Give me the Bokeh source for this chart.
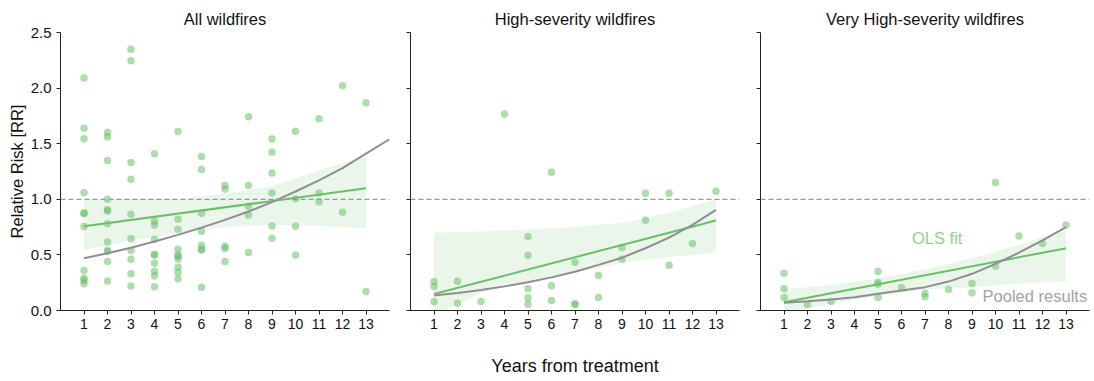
from bokeh.plotting import figure
from bokeh.layouts import row
from bokeh.models import (Range1d, FixedTicker, PrintfTickFormatter, Span, Label,
                          CustomLabelingPolicy)
from bokeh.embed import file_html
from bokeh.resources import INLINE

FONT = "Liberation Sans"

titles = ["All wildfires", "High-severity wildfires", "Very High-severity wildfires"]
x_title = "Years from treatment"
y_title = "Relative Risk [RR]"
x_ticks = list(range(1, 14))
y_ticks = [0.0, 0.5, 1.0, 1.5, 2.0, 2.5]

# ---- scatter data (years, relative risk) ----
all_x = ([1]*11 + [2]*12 + [3]*10 + [4]*10 + [5]*10 + [6]*8 + [7]*5 + [8]*5 + [9]*6
         + [10]*4 + [11]*3 + [12]*2 + [13]*2)
all_y = [2.09, 1.64, 1.545, 1.06, 0.88, 0.87, 0.755, 0.36, 0.29, 0.27, 0.24,
         1.60, 1.56, 1.35, 1.00, 0.905, 0.895, 0.78, 0.615, 0.54, 0.53, 0.44, 0.265,
         2.35, 2.245, 1.33, 1.18, 0.865, 0.645, 0.54, 0.46, 0.33, 0.22,
         1.41, 0.805, 0.77, 0.64, 0.505, 0.497, 0.425, 0.353, 0.312, 0.213,
         1.61, 0.82, 0.73, 0.55, 0.50, 0.485, 0.46, 0.39, 0.344, 0.285,
         1.385, 1.267, 0.875, 0.713, 0.587, 0.551, 0.545, 0.209,
         1.123, 1.093, 0.578, 0.557, 0.44,
         1.743, 1.123, 0.937, 0.856, 0.521,
         1.542, 1.422, 1.237, 1.057, 0.761, 0.65,
         1.611, 1.006, 0.758, 0.50,
         1.725, 1.057, 0.979,
         2.022, 0.883,
         1.869, 0.171]

high_x = [1, 1, 1, 2, 2, 3, 4, 5, 5, 5, 5, 5, 6, 6, 6, 7, 7, 7, 8, 8, 9, 9, 10, 10, 11, 11, 12, 13]
high_y = [0.26, 0.216, 0.078, 0.263, 0.066, 0.081, 1.766, 0.665, 0.494, 0.195, 0.114, 0.057,
          1.243, 0.222, 0.09, 0.434, 0.06, 0.054, 0.314, 0.117, 0.566, 0.461, 1.054, 0.811,
          1.054, 0.407, 0.602, 1.072]

vhigh_x = [1, 1, 1, 2, 3, 5, 5, 5, 5, 6, 7, 7, 8, 9, 9, 10, 10, 11, 12, 13]
vhigh_y = [0.335, 0.195, 0.117, 0.054, 0.081, 0.35, 0.251, 0.237, 0.117, 0.204, 0.156, 0.123,
           0.189, 0.243, 0.159, 1.15, 0.398, 0.671, 0.602, 0.769]

# ---- OLS fit lines (endpoints) and confidence bands ----
ols_x = [1, 13]
all_ols = [0.757, 1.099]
high_ols = [0.148, 0.810]
vhigh_ols = [0.074, 0.560]

band_x = [1, 3, 5, 7, 9, 11, 13]
all_lo = [0.545, 0.63, 0.69, 0.75, 0.77, 0.76, 0.74]
all_hi = [1.00, 1.00, 1.00, 1.05, 1.12, 1.26, 1.39]
high_lo = [-0.05, 0.16, 0.26, 0.34, 0.43, 0.48, 0.52]
high_hi = [0.70, 0.71, 0.73, 0.75, 0.79, 0.88, 1.00]
vhigh_lo = [-0.02, 0.06, 0.13, 0.19, 0.21, 0.24, 0.26]
vhigh_hi = [0.19, 0.23, 0.29, 0.37, 0.47, 0.59, 0.73]

# ---- pooled results curves ----
all_pool_x = list(range(1, 15))
all_pool = [0.47, 0.515, 0.565, 0.62, 0.68, 0.745, 0.815, 0.89, 0.975, 1.07, 1.17, 1.28, 1.41, 1.54]
high_pool_x = list(range(1, 14))
high_pool = [0.135, 0.158, 0.185, 0.217, 0.254, 0.298, 0.349, 0.41, 0.475, 0.56, 0.655, 0.77, 0.905]
vhigh_pool_x = list(range(1, 14))
vhigh_pool = [0.069, 0.083, 0.10, 0.12, 0.15, 0.18, 0.21, 0.26, 0.33, 0.42, 0.52, 0.63, 0.75]

panels = [
    (all_x, all_y, all_ols, all_lo, all_hi, all_pool_x, all_pool),
    (high_x, high_y, high_ols, high_lo, high_hi, high_pool_x, high_pool),
    (vhigh_x, vhigh_y, vhigh_ols, vhigh_lo, vhigh_hi, vhigh_pool_x, vhigh_pool),
]

GREEN = "#6abf69"
GRAY = "#8f8e92"

figs = []
borders = [(60, 11), (10, 11), (10, 4)]
for i, (px, py, ols, lo, hi, plx, pl) in enumerate(panels):
    p = figure(frame_width=329, frame_height=278, output_backend="svg", toolbar_location=None,
               x_range=Range1d(0, 14), y_range=Range1d(0, 2.5),
               min_border_left=borders[i][0], min_border_right=borders[i][1],
               min_border_top=32, min_border_bottom=71)
    p.outline_line_color = None
    p.grid.visible = False
    p.background_fill_color = "white"
    p.border_fill_color = "white"

    p.title.text = titles[i]
    p.title.align = "center"
    p.title.text_font = FONT
    p.title.text_font_size = "16.5px"
    p.title.text_font_style = "normal"
    p.title.text_color = "#111111"

    p.varea(x=band_x, y1=lo, y2=hi, fill_color=GREEN, fill_alpha=0.14)
    p.add_layout(Span(location=1.0, dimension="width", line_color="#9a9a9a",
                      line_dash="5 3", line_width=1.3))
    p.scatter(px, py, size=7.5, fill_color=GREEN, fill_alpha=0.55, line_color=None)
    p.line(ols_x, ols, line_color=GREEN, line_width=2)
    p.line(plx, pl, line_color=GRAY, line_width=2)

    for ax in (p.xaxis[0], p.yaxis[0]):
        ax.axis_line_color = "#222222"
        ax.major_tick_line_color = "#222222"
        ax.major_tick_in = 0
        ax.major_tick_out = 4
        ax.minor_tick_line_color = None
        ax.major_label_text_font = FONT
        ax.major_label_text_color = "#111111"
        ax.axis_label_text_font = FONT
        ax.axis_label_text_font_style = "normal"
        ax.axis_label_text_color = "#111111"

    p.xaxis.ticker = FixedTicker(ticks=x_ticks)
    p.xaxis.major_label_text_font_size = "14px"
    p.xaxis.major_label_standoff = 4
    p.yaxis.ticker = FixedTicker(ticks=y_ticks)
    p.yaxis.formatter = PrintfTickFormatter(format="%.1f")
    p.yaxis.major_label_standoff = 5

    if i == 0:
        p.yaxis.major_label_text_font_size = "15px"
        p.yaxis.axis_label = y_title
        p.yaxis.axis_label_text_font_size = "16.5px"
        p.yaxis.axis_label_standoff = 2
    else:
        p.yaxis.major_label_text_font_size = "0px"
        p.yaxis.major_label_standoff = 0
        p.yaxis.major_label_policy = CustomLabelingPolicy(code="return []")
    if i == 1:
        p.xaxis.axis_label = x_title
        p.xaxis.axis_label_text_font_size = "18px"
        p.xaxis.axis_label_standoff = 24
    if i == 2:
        p.add_layout(Label(x=7.52, y=0.656, text="OLS fit", text_align="center",
                           text_baseline="middle", text_font=FONT, text_font_size="16.5px",
                           text_color="#8fd18e"))
        p.add_layout(Label(x=13.9, y=0.126, text="Pooled results", text_align="right",
                           text_baseline="middle", text_font=FONT, text_font_size="16.5px",
                           text_color="#a3a3a3"))
    figs.append(p)

layout = row(*figs, spacing=0)
open("out.html", "w").write(file_html(layout, INLINE))
